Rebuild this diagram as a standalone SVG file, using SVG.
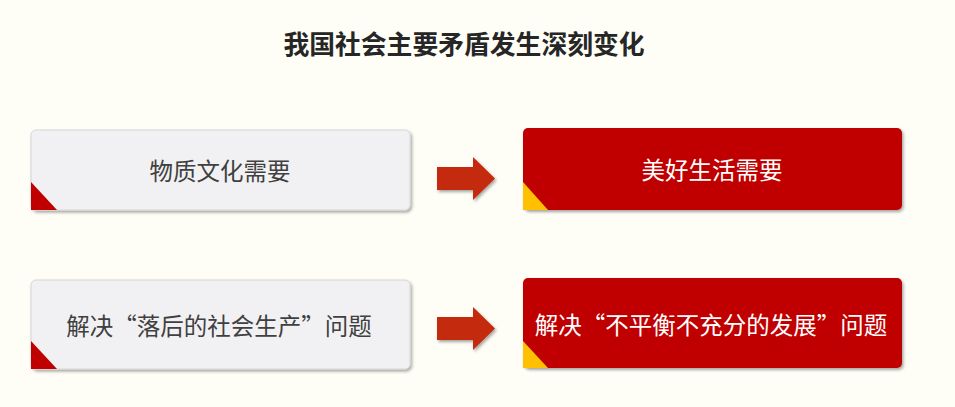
<svg xmlns="http://www.w3.org/2000/svg" width="955" height="407" viewBox="0 0 955 407">
  <defs>
    <filter id="sh" x="-5%" y="-10%" width="110%" height="130%">
      <feDropShadow dx="1.5" dy="2" stdDeviation="1.5" flood-color="#000" flood-opacity="0.35"/>
    </filter>
    <style>
      .t { font-family: "Noto Sans CJK SC", "Noto Sans", sans-serif; font-size: 23.5px; text-anchor: middle; dominant-baseline: central; }
      .grey { fill: #F1F1F3; stroke: #D6D6D8; stroke-width: 1; }
      .red { fill: #C00000; }
      .arrow { fill: #C42A08; }
      .tri-red { fill: #C00000; }
      .tri-yel { fill: #FFC000; }
    </style>
  </defs>
  <rect width="955" height="407" fill="#FEFEF6"/>
  <text x="464" y="42" style="font-family: 'Noto Sans CJK SC', sans-serif; font-size: 25.8px; font-weight: bold; text-anchor: middle; dominant-baseline: central;" fill="#262626">我国社会主要矛盾发生深刻变化</text>

  <g id="node1">
    <rect class="grey" x="31" y="130" width="379" height="80" rx="5" filter="url(#sh)"/>
    <polygon class="tri-red" points="31,182 31,210 57,210"/>
    <text class="t" x="220" y="170" fill="#404040">物质文化需要</text>
  </g>
  <g id="node2">
    <rect class="red" x="523" y="128" width="379" height="82" rx="5" filter="url(#sh)"/>
    <polygon class="tri-yel" points="523,182 523,210 548,210"/>
    <text class="t" x="712" y="169" fill="#FFFFFF">美好生活需要</text>
  </g>
  <g id="node3">
    <rect class="grey" x="31" y="280" width="379" height="89" rx="5" filter="url(#sh)"/>
    <polygon class="tri-red" points="31,341 31,369 57,369"/>
    <text class="t" x="219" y="325" fill="#404040">解决“落后的社会生产”问题</text>
  </g>
  <g id="node4">
    <rect class="red" x="523" y="278" width="379" height="90" rx="5" filter="url(#sh)"/>
    <polygon class="tri-yel" points="523,341 523,368 548,368"/>
    <text class="t" x="711" y="324" fill="#FFFFFF">解决“不平衡不充分的发展”问题</text>
  </g>
  <g id="connectors">
    <polygon class="arrow" filter="url(#sh)" points="437,167 473,167 473,157 495,178.5 473,200 473,190 437,190"/>
    <polygon class="arrow" filter="url(#sh)" points="437,317 473,317 473,307 495,328.5 473,350 473,340 437,340"/>
  </g>
</svg>
